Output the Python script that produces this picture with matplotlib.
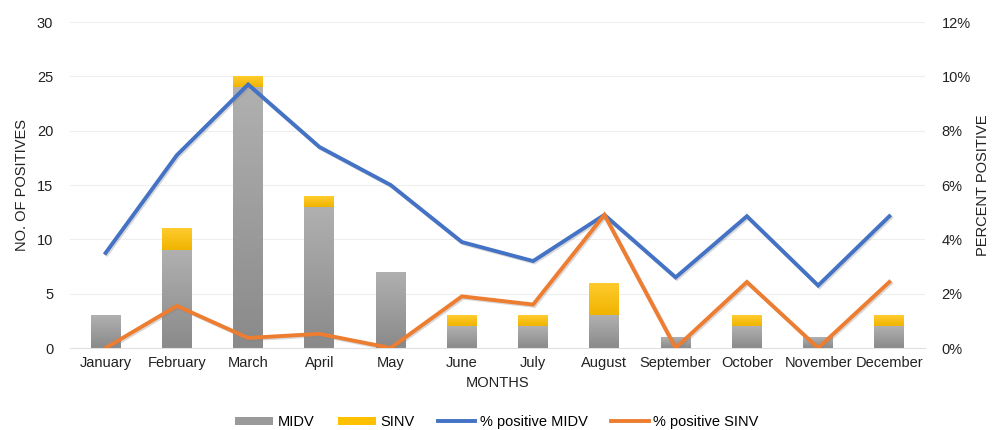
import matplotlib
matplotlib.use("Agg")
import matplotlib.pyplot as plt
import matplotlib.patheffects as pe
import numpy as np
from matplotlib.patches import Patch
from matplotlib.lines import Line2D
from matplotlib.ticker import PercentFormatter

plt.rcParams["font.family"] = ["Liberation Sans", "DejaVu Sans"]

months = ["January", "February", "March", "April", "May", "June",
          "July", "August", "September", "October", "November", "December"]
midv = [3, 9, 24, 13, 7, 2, 2, 3, 1, 2, 1, 2]
sinv = [0, 2, 1, 1, 0, 1, 1, 3, 0, 1, 0, 1]
pct_midv = [3.5, 7.1, 9.7, 7.4, 6.0, 3.9, 3.2, 4.9, 2.6, 4.85, 2.3, 4.85]
pct_sinv = [0.0, 1.55, 0.37, 0.52, 0.0, 1.9, 1.6, 4.9, 0.0, 2.43, 0.0, 2.43]

GREY_TOP, GREY_BOT = "#b0b0b0", "#8a8a8a"
YEL_TOP, YEL_BOT = "#ffcb2e", "#f0b400"
BLUE, ORANGE = "#4472C4", "#ED7D31"
FS = 10.5

fig = plt.figure(figsize=(9.94, 4.30), dpi=100)
ax = fig.add_axes([70 / 994, 82 / 430, 855 / 994, 326 / 430])
ax2 = ax.twinx()

x = np.arange(len(months))
w = 0.42


def gradient_bars(ax, x, heights, bottoms, c_top, c_bot):
    bars = ax.bar(x, heights, w, bottom=bottoms, color="none", linewidth=0)
    top = np.array(matplotlib.colors.to_rgb(c_top))
    bot = np.array(matplotlib.colors.to_rgb(c_bot))
    grad = np.linspace(0, 1, 64)[:, None, None]
    img = bot * (1 - grad) + top * grad
    for b in bars:
        if b.get_height() <= 0:
            continue
        x0, y0 = b.get_x(), b.get_y()
        im = ax.imshow(img, extent=(x0, x0 + b.get_width(), y0, y0 + b.get_height()),
                       origin="lower", aspect="auto", zorder=2)
        im.set_clip_path(b)


gradient_bars(ax, x, midv, 0, GREY_TOP, GREY_BOT)
gradient_bars(ax, x, sinv, midv, YEL_TOP, YEL_BOT)

ax.set_xlim(-0.5, len(months) - 0.5)
ax.set_ylim(0, 30)
ax.set_yticks(range(0, 31, 5))
ax.set_xticks(x)
ax.set_xticklabels(months)
ax.grid(axis="y", color="#eeeeee", linewidth=0.8, zorder=0)
ax.set_axisbelow(True)
for s in ["top", "left", "right"]:
    ax.spines[s].set_visible(False)
ax.spines["bottom"].set_color("#e0e0e0")
ax.tick_params(length=0, labelsize=FS, colors="#222222", pad=6)
ax.tick_params(axis="y", pad=12)
ax.set_ylabel("NO. OF POSITIVES", fontsize=FS, color="#222222", labelpad=6)
ax.set_xlabel("MONTHS", fontsize=FS, color="#222222", labelpad=4)

shadow = [pe.SimpleLineShadow(offset=(1, -1), shadow_color="grey", alpha=0.3), pe.Normal()]
ax2.plot(x, pct_midv, color=BLUE, linewidth=2.8, solid_joinstyle="miter",
         path_effects=shadow, zorder=3)
ax2.plot(x, pct_sinv, color=ORANGE, linewidth=2.8, solid_joinstyle="miter",
         path_effects=shadow, zorder=3)
ax2.set_ylim(0, 12)
ax2.set_yticks(range(0, 13, 2))
ax2.yaxis.set_major_formatter(PercentFormatter(decimals=0))
for s in ax2.spines.values():
    s.set_visible(False)
ax2.tick_params(length=0, labelsize=FS, colors="#222222", pad=12)
ax2.set_ylabel("PERCENT POSITIVE", fontsize=FS, color="#222222")
ax2.yaxis.set_label_coords(1.06, 0.5)

handles = [Patch(facecolor="#9a9a9a"), Patch(facecolor="#ffc000"),
           Line2D([], [], color=BLUE, linewidth=2.8),
           Line2D([], [], color=ORANGE, linewidth=2.8)]
labels = ["MIDV", "SINV", "% positive MIDV", "% positive SINV"]
fig.legend(handles, labels, loc="lower center", ncol=4, frameon=False,
           bbox_to_anchor=(0.5, -0.028), fontsize=FS, handlelength=2.6,
           handleheight=0.5, columnspacing=1.6, handletextpad=0.3)

fig.savefig("out.png", dpi=100)
